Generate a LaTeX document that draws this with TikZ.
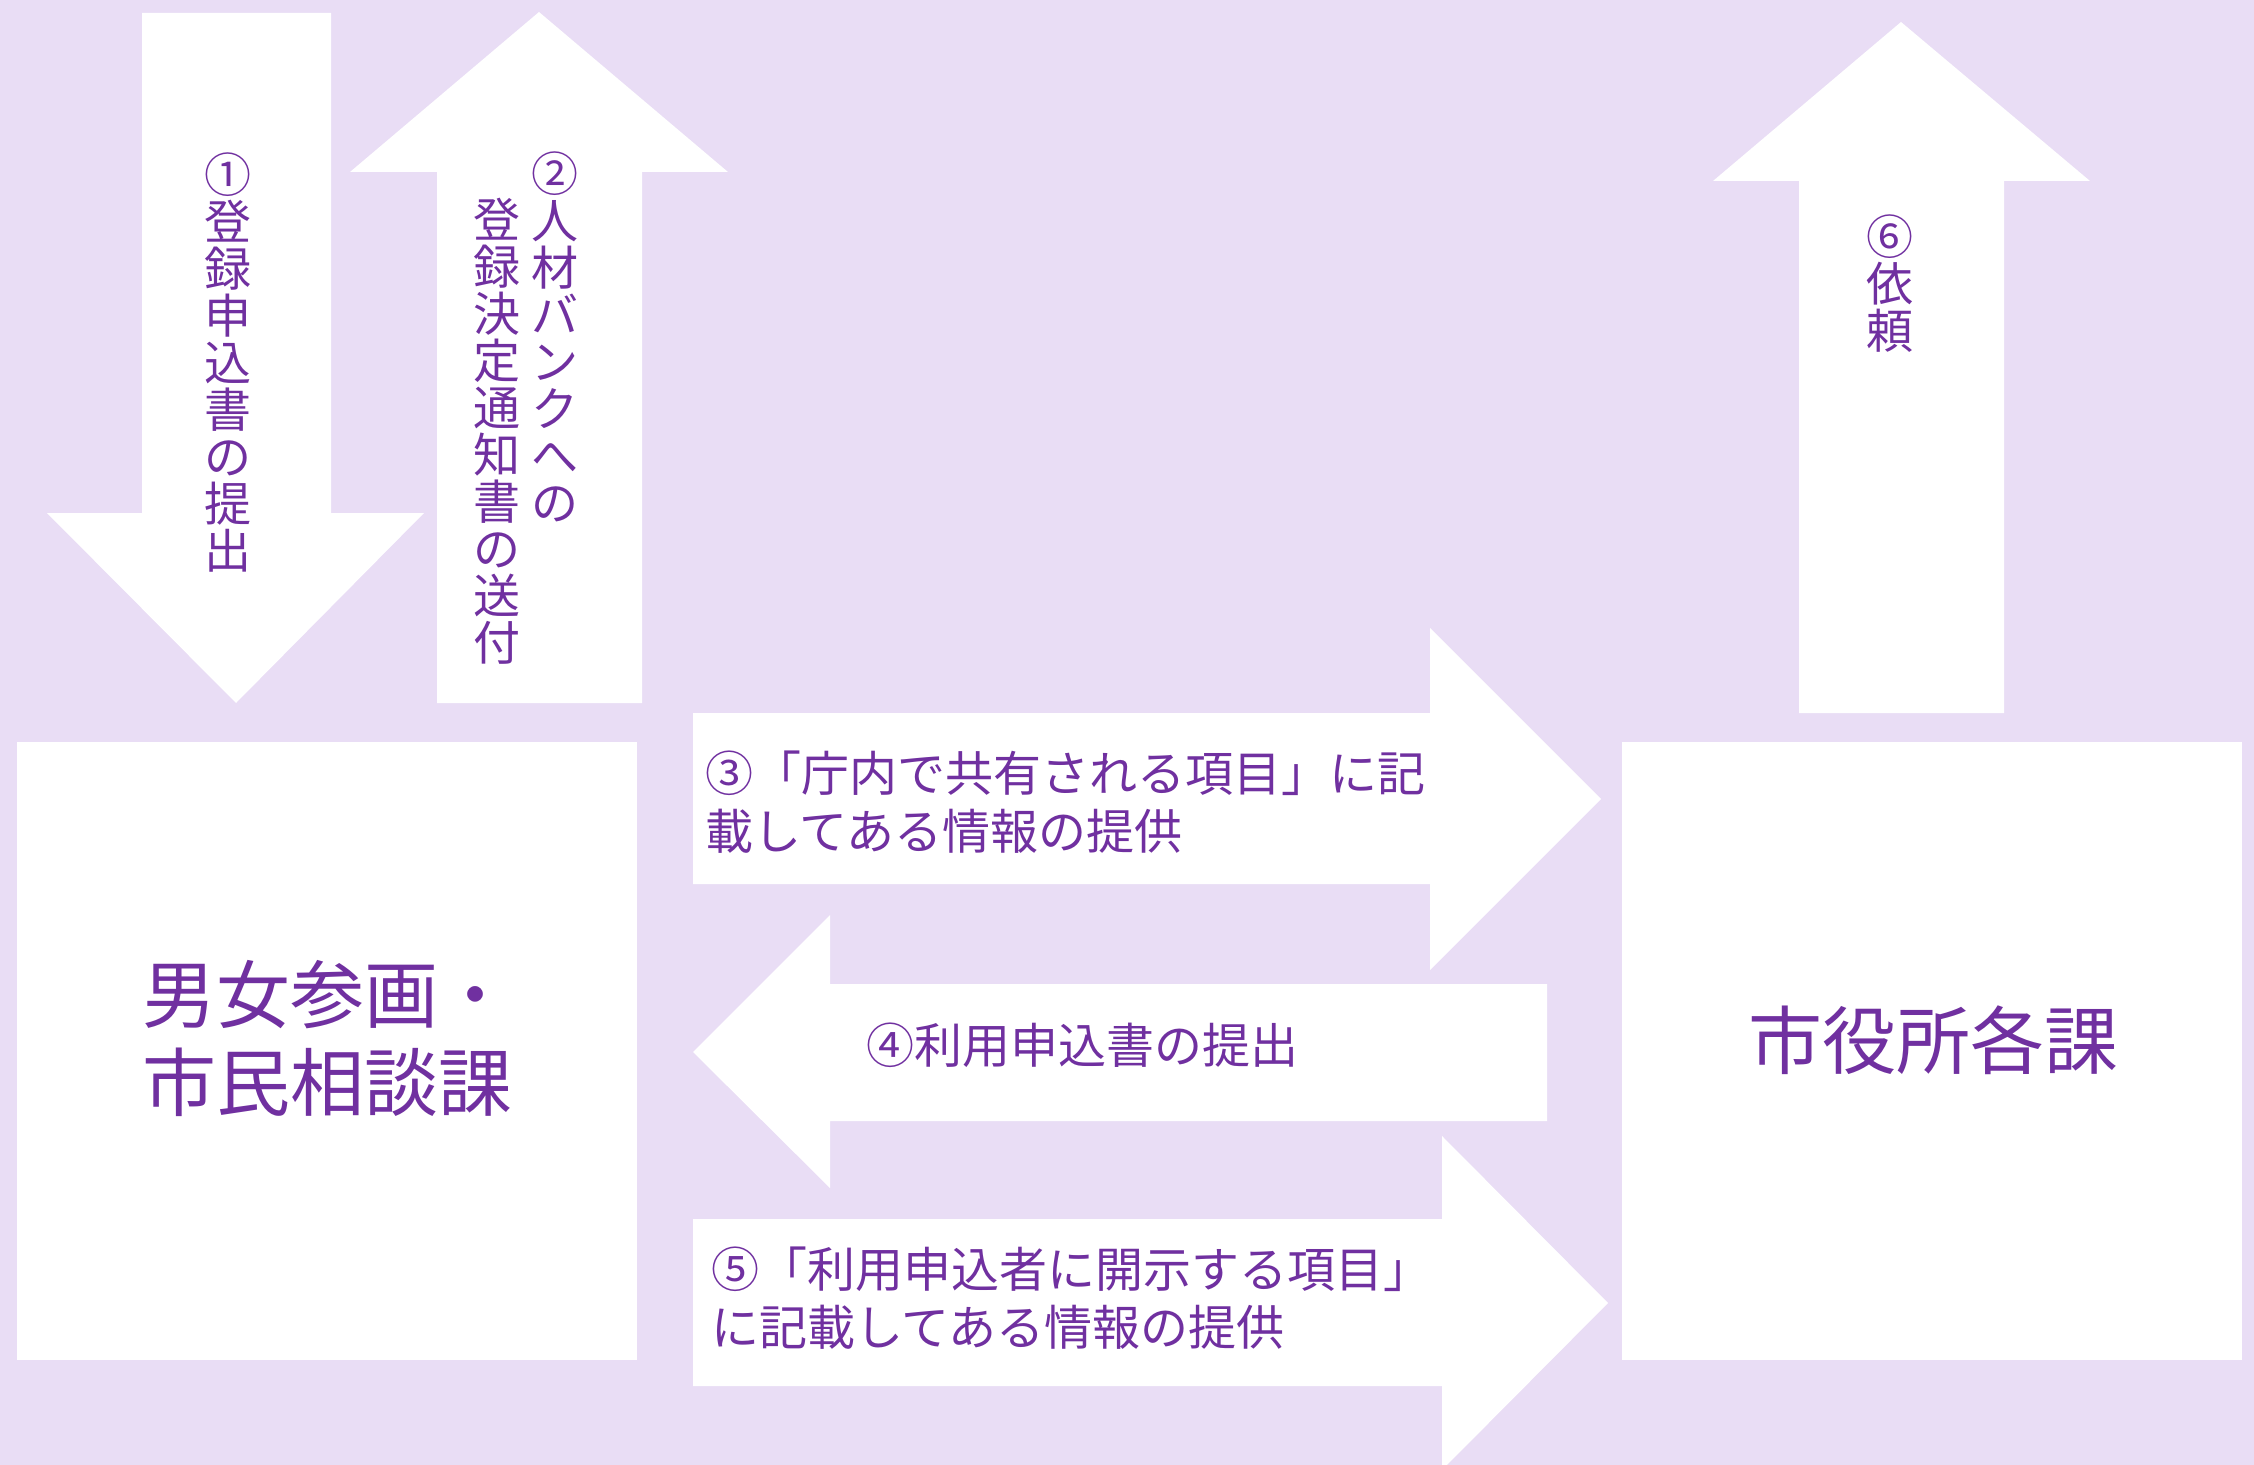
\documentclass[tikz,border=0pt]{standalone}
\usepackage{fontspec}
\setmainfont{Noto Sans CJK JP}
\definecolor{haikei}{RGB}{233,221,245}
\definecolor{moji}{RGB}{112,48,160}
\tikzset{
  hako/.style={fill=white, minimum width=310pt, minimum height=309pt, inner sep=0pt},
  yajirushi/.style={fill=white},
  ookii/.style={text=moji, inner sep=0pt, align=left, font=\fontsize{37}{44}\selectfont},
  setsumei/.style={text=moji, inner sep=0pt, align=left, font=\fontsize{24}{29}\selectfont},
  tate/.style={text=moji, inner sep=0pt, align=center, anchor=north, font=\fontsize{23.5}{23.5}\selectfont},
}
\begin{document}
\begin{tikzpicture}[x=0.5pt,y=-0.5pt]
   % 背景
   \fill[haikei] (0,0) rectangle (2254,1465);
   \useasboundingbox (0,0) rectangle (2254,1465);
   \clip (0,0) rectangle (2254,1465);

   % 課の箱
   \node[hako] (danjo) at (327,1051) {};
   \node[hako] (kakuka) at (1931.5,1051) {};
   \node[ookii, anchor=north west] (danjo-mei) at (142,960) {男女参画・\\市民相談課};
   \node[ookii] (kakuka-mei) at (1933,1040) {市役所各課};

   % 縦の矢印
   \fill[yajirushi] (142,13) -- (331,13) -- (331,513) -- (424,513) -- (236,703) -- (47,513) -- (142,513) -- cycle;
   \fill[yajirushi] (437,703) -- (642,703) -- (642,172) -- (728,172) -- (539,12) -- (350,172) -- (437,172) -- cycle;
   \fill[yajirushi] (1799,713) -- (2004,713) -- (2004,181) -- (2090,181) -- (1901,22) -- (1713,181) -- (1799,181) -- cycle;
   \node[tate] (t1) at (228,152) {①\\登\\録\\申\\込\\書\\の\\提\\出};
   \node[tate] (t2a) at (555,151) {②\\人\\材\\バ\\ン\\ク\\へ\\の};
   \node[tate] (t2b) at (497,198) {登\\録\\決\\定\\通\\知\\書\\の\\送\\付};
   \node[tate] (t6) at (1890,214) {⑥\\依\\頼};

   % 横の矢印
   \fill[yajirushi] (693,713) -- (1430,713) -- (1430,628) -- (1601,799) -- (1430,970) -- (1430,884) -- (693,884) -- cycle;
   \fill[yajirushi] (1547,984) -- (830,984) -- (830,915) -- (693,1052) -- (830,1188) -- (830,1121) -- (1547,1121) -- cycle;
   \fill[yajirushi] (693,1219) -- (1442,1219) -- (1442,1136) -- (1608,1303) -- (1442,1470) -- (1442,1386) -- (693,1386) -- cycle;
   \node[setsumei, anchor=north west] (s3) at (705,750) {③「庁内で共有される項目」に記\\載してある情報の提供};
   \node[setsumei] (s4) at (1082,1045) {④利用申込書の提出};
   \node[setsumei, anchor=north west] (s5) at (711,1246) {⑤「利用申込者に開示する項目」\\に記載してある情報の提供};

\end{tikzpicture}
\end{document}
